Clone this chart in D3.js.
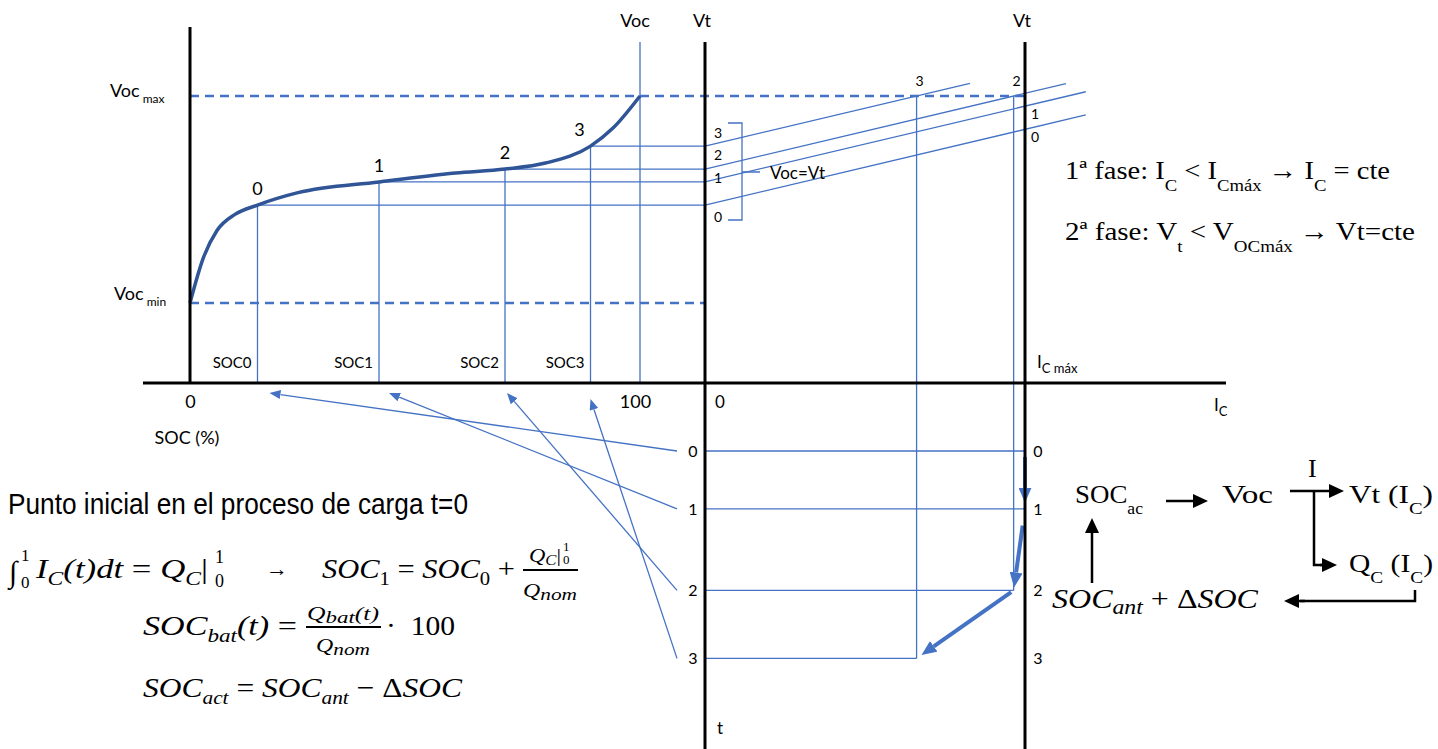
<!DOCTYPE html>
<html>
<head>
<meta charset="utf-8">
<script src="https://cdn.jsdelivr.net/npm/d3@7"></script>
<style>
  body { margin: 0; background: #fff; }
  text { white-space: pre; }
</style>
</head>
<body>
<script>
// Voc(SOC) curve: SOC in %, Voc normalised (0 = Voc min, 1 = Voc max)
let curveSoc = [0, 3, 6, 10, 15, 24, 42, 59, 70, 79, 89, 94, 100];
let curveVoc = [0, 0.22, 0.35, 0.428, 0.473, 0.533, 0.585, 0.628, 0.647, 0.676, 0.758, 0.845, 1];

// charging steps 0..3
let stepLabels = ["0", "1", "2", "3"];
let socLabels = ["SOC0", "SOC1", "SOC2", "SOC3"];
let stepSoc = [15, 42, 70, 89];
let stepVoc = [0.473, 0.585, 0.647, 0.758];
let stepTime = [20, 37, 61, 81];
let lineEndIc = [1.19, 1.19, 1.128, 0.828];   // where each Vt(Ic) line stops
let gainR = 0.366;                             // Vt = Voc + R*Ic (normalised)
let socTicks = [0, 100];

let width = 1438, height = 749;
let blue = "#4472C4", dark = "#2F5597";
let sans = "Lato, 'Open Sans', sans-serif";
let serif = "'Liberation Serif', 'DejaVu Serif', serif";

let xSoc = d3.scaleLinear().domain([0, 100]).range([190, 640]);
let yV = d3.scaleLinear().domain([0, 1]).range([303, 96]);
let xIc = d3.scaleLinear().domain([0, 1]).range([705, 1025]);
let yT = d3.scaleLinear().domain([0, 100]).range([383, 723]);
let axisY = yT(0);

// current for each step: Ic max until Vt reaches Voc max
let stepIc = stepVoc.map(v => Math.min(1, (1 - v) / gainR));

let svg = d3.select("body").append("svg")
    .attr("width", width).attr("height", height);

let defs = svg.append("defs");
function marker(id, color, len, wid) {
    defs.append("marker").attr("id", id)
        .attr("viewBox", `0 0 ${len} ${wid}`)
        .attr("refX", 0).attr("refY", wid / 2)
        .attr("markerWidth", len).attr("markerHeight", wid)
        .attr("markerUnits", "userSpaceOnUse").attr("orient", "auto")
        .append("path").attr("d", `M0,0L${len},${wid / 2}L0,${wid}Z`).attr("fill", color);
}
marker("hThin", blue, 11, 9);
marker("hThick", blue, 15, 13);
marker("hBlack", "#000", 15, 14);

// line whose arrow tip lands on (x2,y2)
function arrow(g, x1, y1, x2, y2, id, len, color, w) {
    let dx = x2 - x1, dy = y2 - y1, d = Math.hypot(dx, dy);
    return g.append("line")
        .attr("x1", x1).attr("y1", y1)
        .attr("x2", x2 - dx / d * len).attr("y2", y2 - dy / d * len)
        .attr("stroke", color).attr("stroke-width", w)
        .attr("marker-end", `url(#${id})`);
}

function rich(g, x, y, parts, o) {
    let size = o.size;
    let subDy = o.subDy ?? size * 0.3, supDy = o.supDy ?? -size * 0.4, small = o.small ?? size * 0.65;
    let t = g.append("text").attr("x", x).attr("y", y)
        .attr("font-family", o.family).attr("font-size", size)
        .attr("font-style", o.italic ? "italic" : "normal")
        .attr("fill", o.fill || "#000");
    let cur = 0;
    parts.forEach(p => {
        let [txt, k = "", dx = 0] = p;
        let off = k.includes("b") ? subDy : k.includes("p") ? supDy : 0;
        let ts = t.append("tspan").attr("dy", off - cur).text(txt);
        if (dx) ts.attr("dx", dx);
        if (off) ts.attr("font-size", small);
        if (k.includes("n")) ts.attr("font-style", "normal");
        if (k.includes("i")) ts.attr("font-style", "italic");
        cur = off;
    });
    if (o.anchor) t.attr("text-anchor", o.anchor);
    if (o.len) t.attr("textLength", o.len).attr("lengthAdjust", "spacingAndGlyphs");
    return t;
}

let thin = svg.append("g").attr("stroke", blue).attr("stroke-width", 1.3).attr("fill", "none");

// projections of the curve points
stepSoc.forEach((s, i) => {
    thin.append("line").attr("x1", xSoc(s)).attr("x2", xSoc(s))
        .attr("y1", yV(stepVoc[i])).attr("y2", axisY);
    thin.append("line").attr("x1", xSoc(s)).attr("x2", xIc(0))
        .attr("y1", yV(stepVoc[i])).attr("y2", yV(stepVoc[i]));
});
thin.append("line").attr("x1", xSoc(100)).attr("x2", xSoc(100)).attr("y1", 42).attr("y2", axisY);

// Vt(Ic) lines
stepVoc.forEach((v, i) => {
    thin.append("line")
        .attr("x1", xIc(0)).attr("y1", yV(v))
        .attr("x2", xIc(lineEndIc[i])).attr("y2", yV(v + gainR * lineEndIc[i]));
});

// time rows and current verticals
stepTime.forEach((t, i) => {
    thin.append("line").attr("x1", xIc(0)).attr("x2", xIc(stepIc[i]))
        .attr("y1", yT(t)).attr("y2", yT(t));
    if (stepIc[i] < 1) {
        thin.append("line").attr("x1", xIc(stepIc[i])).attr("x2", xIc(stepIc[i]))
            .attr("y1", yV(1)).attr("y2", yT(t));
    }
});

// dashed Voc max / min
svg.append("line").attr("x1", xSoc(0)).attr("x2", xIc(1)).attr("y1", yV(1)).attr("y2", yV(1))
    .attr("stroke", blue).attr("stroke-width", 2.5).attr("stroke-dasharray", "9,6");
svg.append("line").attr("x1", xSoc(0)).attr("x2", xIc(0)).attr("y1", yV(0)).attr("y2", yV(0))
    .attr("stroke", blue).attr("stroke-width", 2.5).attr("stroke-dasharray", "9,6");

// Voc(SOC) curve
let line = d3.line().x(d => xSoc(d[0])).y(d => yV(d[1])).curve(d3.curveMonotoneX);
svg.append("path").datum(curveSoc.map((s, i) => [s, curveVoc[i]]))
    .attr("d", line).attr("fill", "none").attr("stroke", dark).attr("stroke-width", 3.5);

// arrows from time rows back to SOC axis
let tipDx = [12, 10, 2, 0];
stepTime.forEach((t, i) => {
    arrow(svg, 677, yT(t), xSoc(stepSoc[i]) + tipDx[i], i === 3 ? 399 : 393, "hThin", 11, blue, 1.3);
});

// thick path of the operating point
let pts = stepTime.map((t, i) => [xIc(stepIc[i]), yT(t)]);
let cutA = [6, 17, 3], cutB = [6, 3, 6];
for (let i = 0; i < 3; i++) {
    let [ax, ay] = pts[i], [bx, by] = pts[i + 1];
    let d = Math.hypot(bx - ax, by - ay), ux = (bx - ax) / d, uy = (by - ay) / d;
    arrow(svg, ax + ux * cutA[i], ay + uy * cutA[i], bx - ux * cutB[i], by - uy * cutB[i], "hThick", 15, blue, 4);
}

// black axes
let axes = svg.append("g").attr("stroke", "#000").attr("stroke-width", 3);
axes.append("line").attr("x1", 143).attr("x2", 1226).attr("y1", axisY).attr("y2", axisY);
axes.append("line").attr("x1", xSoc(0)).attr("x2", xSoc(0)).attr("y1", 27).attr("y2", axisY);
axes.append("line").attr("x1", xIc(0)).attr("x2", xIc(0)).attr("y1", 42).attr("y2", height);
axes.append("line").attr("x1", xIc(1)).attr("x2", xIc(1)).attr("y1", 42).attr("y2", height);

// SOC tick labels through an axis
let socAxis = d3.axisBottom(xSoc).tickValues(socTicks).tickSize(0).tickPadding(12);
let ga = svg.append("g").attr("transform", `translate(0,${axisY})`).call(socAxis);
ga.select(".domain").remove();
ga.selectAll("text").attr("font-family", sans).attr("font-size", 18).attr("fill", "#000")
    .attr("dx", d => d === 100 ? -5 : 0);

let lab = svg.append("g").attr("font-family", sans).attr("fill", "#000");

// top labels
lab.append("text").attr("x", xSoc(100) - 5).attr("y", 27).attr("font-size", 18).attr("text-anchor", "middle").text("Voc");
lab.append("text").attr("x", xIc(0) - 3).attr("y", 27).attr("font-size", 18).attr("text-anchor", "middle").text("Vt");
lab.append("text").attr("x", xIc(1) - 3).attr("y", 27).attr("font-size", 18).attr("text-anchor", "middle").text("Vt");

rich(lab, 110, 97, [["Voc"], [" max", "b"]], { size: 18, family: sans, subDy: 6, small: 12 });
rich(lab, 114, 300, [["Voc"], [" min", "b"]], { size: 18, family: sans, subDy: 6, small: 12 });

// step labels on the curve
let curveDx = [0, 0, 0, -11];
stepLabels.forEach((s, i) => {
    lab.append("text").attr("x", xSoc(stepSoc[i]) + curveDx[i]).attr("y", yV(stepVoc[i]) - 10)
        .attr("font-size", 18).attr("text-anchor", "middle").text(s);
});

// SOC names above the axis
socLabels.forEach((s, i) => {
    lab.append("text").attr("x", xSoc(stepSoc[i]) - 6).attr("y", 368)
        .attr("font-size", 15).attr("text-anchor", "end").text(s);
});
lab.append("text").attr("x", 187).attr("y", 444).attr("font-size", 18).attr("text-anchor", "middle").text("SOC (%)");

// labels on the Vt (Ic = 0) axis
let midDy = [12, -4, -14, -13];
stepLabels.forEach((s, i) => {
    lab.append("text").attr("x", 718).attr("y", yV(stepVoc[i]) + midDy[i] + 5)
        .attr("font-size", 14).attr("text-anchor", "middle").text(s);
});
svg.append("path")
    .attr("d", "M728,123H742V220H728M742,172H760")
    .attr("fill", "none").attr("stroke", blue).attr("stroke-width", 1.3);
lab.append("text").attr("x", 770).attr("y", 179).attr("font-size", 17).text("Voc=Vt");

// labels where each Vt line meets Voc max or Ic max
stepLabels.forEach((s, i) => {
    let ic = stepIc[i], x = xIc(ic), y = yV(stepVoc[i] + gainR * ic);
    let clamp = ic >= 1;
    lab.append("text").attr("x", clamp ? x + 10 : x + 3).attr("y", clamp ? y + 13 : y - 10)
        .attr("font-size", 14).attr("text-anchor", "middle").text(s);
});

// time labels
stepLabels.forEach((s, i) => {
    lab.append("text").attr("x", 693).attr("y", yT(stepTime[i]) + 6)
        .attr("font-size", 16).attr("text-anchor", "middle").text(s);
    lab.append("text").attr("x", 1038).attr("y", yT(stepTime[i]) + 6)
        .attr("font-size", 16).attr("text-anchor", "middle").text(s);
});
lab.append("text").attr("x", 720).attr("y", 408).attr("font-size", 17).attr("text-anchor", "middle").text("0");
lab.append("text").attr("x", 720).attr("y", 734).attr("font-size", 17).attr("text-anchor", "middle").text("t");

rich(lab, 1037, 368, [["I"], ["C máx", "b"]], { size: 17, family: sans, subDy: 5, small: 13 });
rich(lab, 1214, 411, [["I"], ["C", "b"]], { size: 17, family: sans, subDy: 5, small: 13 });

// phase text
let tx = svg.append("g");
rich(tx, 1065, 179, [["1ª fase: I"], ["C", "b"], [" < I"], ["Cmáx", "b"], [" → I"], ["C", "b"], [" = cte"]],
    { size: 26, family: serif, subDy: 12, small: 17, len: 325 });
rich(tx, 1065, 240, [["2ª fase: V"], ["t", "b"], [" < V"], ["OCmáx", "b"], [" → Vt=cte"]],
    { size: 26, family: serif, subDy: 12, small: 17, len: 350 });

// loop diagram
rich(tx, 1075, 503, [["SOC"], ["ac", "b"]], { size: 26, family: serif, subDy: 11, small: 17, len: 68 });
rich(tx, 1222, 503, [["Voc"]], { size: 26, family: serif, len: 51 });
rich(tx, 1308, 477, [["I"]], { size: 26, family: serif });
rich(tx, 1349, 503, [["Vt (I"], ["C", "b"], [")"]], { size: 26, family: serif, subDy: 11, small: 17, len: 84 });
rich(tx, 1349, 572, [["Q"], ["C", "b"], [" (I"], ["C", "b"], [")"]], { size: 26, family: serif, subDy: 11, small: 17, len: 84 });
rich(tx, 1052, 608, [["SOC"], ["ant", "b"], [" + Δ", "n"], ["SOC"]],
    { size: 27, family: serif, italic: true, subDy: 6, small: 20, len: 206 });

let bk = svg.append("g");
arrow(bk, 1166, 501, 1208, 501, "hBlack", 15, "#000", 2.5);
arrow(bk, 1290, 491, 1344, 491, "hBlack", 15, "#000", 2.5);
bk.append("path").attr("d", "M1314,491V565H1322").attr("fill", "none").attr("stroke", "#000").attr("stroke-width", 2.5);
arrow(bk, 1320, 565, 1337, 565, "hBlack", 15, "#000", 2.5);
bk.append("path").attr("d", "M1415,590V601H1300").attr("fill", "none").attr("stroke", "#000").attr("stroke-width", 2.5);
arrow(bk, 1305, 601, 1284, 601, "hBlack", 15, "#000", 2.5);
arrow(bk, 1092, 583, 1092, 518, "hBlack", 15, "#000", 2.5);

// formulas on the left
let fm = svg.append("g");
rich(fm, 8, 514, [["Punto inicial en el proceso de carga t=0"]],
    { size: 29, family: "'Liberation Sans Narrow', 'Arial Narrow', 'Liberation Sans', sans-serif", len: 460 });

let fo = { size: 28, family: serif, italic: true, subDy: 7, small: 19 };
fm.append("text").attr("x", 9).attr("y", 582).attr("font-family", serif).attr("font-size", 30).attr("font-style", "italic").text("∫");
rich(fm, 21, 561, [["1"]], { size: 17, family: serif });
rich(fm, 21, 588, [["0"]], { size: 17, family: serif });
rich(fm, 36, 578, [["I"], ["C", "b"], ["(t)dt "], ["= ", "n"], ["Q"], ["C", "b"], ["|", "n"]], { ...fo, len: 172 });
rich(fm, 215, 563, [["1"]], { size: 18, family: serif });
rich(fm, 215, 587, [["0"]], { size: 18, family: serif });
rich(fm, 266, 576, [["→"]], { size: 22, family: serif });
rich(fm, 322, 578, [["SOC"], ["1", "bn"], [" = ", "n"], ["SOC"], ["0", "bn"], [" +", "n"]], { ...fo, len: 193 });
fm.append("line").attr("x1", 523).attr("x2", 578).attr("y1", 570).attr("y2", 570).attr("stroke", "#000").attr("stroke-width", 2);
rich(fm, 529, 562, [["Q"], ["C", "b"], ["|", "n"]], { size: 19, family: serif, italic: true, subDy: 3, small: 14, len: 32 });
rich(fm, 563, 551, [["1"]], { size: 13, family: serif });
rich(fm, 563, 564, [["0"]], { size: 13, family: serif });
rich(fm, 550, 597, [["Q"], ["nom", "b"]], { size: 19, family: serif, italic: true, subDy: 3, small: 17, anchor: "middle", len: 54 });

rich(fm, 143, 635, [["SOC"], ["bat", "b"], ["(t) "], ["=", "n"]], { ...fo, len: 154 });
fm.append("line").attr("x1", 306).attr("x2", 381).attr("y1", 627).attr("y2", 627).attr("stroke", "#000").attr("stroke-width", 2);
rich(fm, 343, 620, [["Q"], ["bat", "b"], ["(t)"]], { size: 19, family: serif, italic: true, subDy: 3, small: 17, anchor: "middle", len: 72 });
rich(fm, 343, 652, [["Q"], ["nom", "b"]], { size: 19, family: serif, italic: true, subDy: 3, small: 17, anchor: "middle", len: 54 });
rich(fm, 386, 635, [["·  100"]], { size: 28, family: serif, len: 69 });

rich(fm, 143, 697, [["SOC"], ["act", "b"], [" = ", "n"], ["SOC"], ["ant", "b"], [" − Δ", "n"], ["SOC"]], { ...fo, len: 319 });
</script>
</body>
</html>
